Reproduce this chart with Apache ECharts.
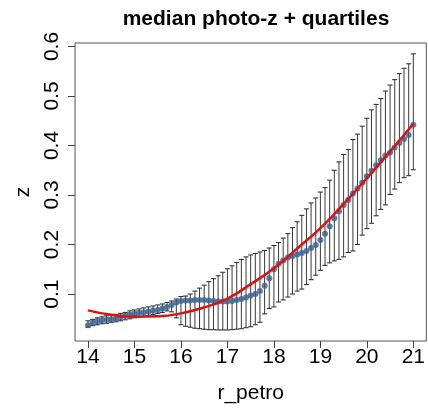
<!DOCTYPE html>
<html>
<head>
<meta charset="utf-8">
<script src="https://cdn.jsdelivr.net/npm/echarts@6/dist/echarts.min.js"></script>
<style>
html,body{margin:0;padding:0;background:#fff;}
#chart{width:428px;height:409px;}
</style>
</head>
<body>
<div id="chart"></div>
<script>
// r_petro bins
var rPetro = [14.0,14.1,14.2,14.3,14.4,14.5,14.6,14.7,14.8,14.9,
  15.0,15.1,15.2,15.3,15.4,15.5,15.6,15.7,15.8,15.9,
  16.0,16.1,16.2,16.3,16.4,16.5,16.6,16.7,16.8,16.9,
  17.0,17.1,17.2,17.3,17.4,17.5,17.6,17.7,17.8,17.9,
  18.0,18.1,18.2,18.3,18.4,18.5,18.6,18.7,18.8,18.9,
  19.0,19.1,19.2,19.3,19.4,19.5,19.6,19.7,19.8,19.9,
  20.0,20.1,20.2,20.3,20.4,20.5,20.6,20.7,20.8,20.9,21.0];
// median photo-z
var medianZ = [0.037,0.042,0.045,0.047,0.048,0.049,0.050,0.053,0.056,0.058,
  0.060,0.062,0.063,0.065,0.067,0.068,0.071,0.074,0.078,0.083,
  0.086,0.087,0.087,0.088,0.088,0.088,0.087,0.086,0.085,0.085,
  0.085,0.086,0.088,0.090,0.093,0.097,0.100,0.106,0.117,0.132,
  0.150,0.161,0.168,0.174,0.177,0.180,0.183,0.187,0.193,0.199,
  0.209,0.222,0.237,0.253,0.267,0.280,0.290,0.303,0.313,0.325,
  0.338,0.349,0.360,0.370,0.380,0.386,0.396,0.405,0.413,0.421,0.442];
// lower quartile
var q1Z = [0.033,0.036,0.038,0.040,0.041,0.043,0.044,0.046,0.048,0.050,
  0.052,0.054,0.055,0.057,0.059,0.061,0.063,0.066,0.064,0.052,
  0.038,0.035,0.033,0.031,0.030,0.029,0.028,0.028,0.0275,0.0275,
  0.0275,0.028,0.029,0.030,0.032,0.034,0.038,0.043,0.060,0.071,
  0.074,0.084,0.088,0.094,0.100,0.106,0.110,0.119,0.129,0.138,
  0.148,0.158,0.163,0.167,0.170,0.175,0.184,0.187,0.200,0.219,
  0.232,0.243,0.258,0.271,0.280,0.301,0.312,0.325,0.335,0.339,0.351];
// upper quartile
var q3Z = [0.046,0.049,0.052,0.054,0.056,0.058,0.059,0.061,0.063,0.066,
  0.068,0.070,0.072,0.074,0.076,0.078,0.080,0.083,0.086,0.090,
  0.095,0.096,0.100,0.106,0.112,0.118,0.125,0.131,0.137,0.144,
  0.151,0.157,0.164,0.170,0.175,0.179,0.182,0.185,0.188,0.193,
  0.198,0.204,0.213,0.222,0.234,0.246,0.259,0.272,0.284,0.294,
  0.306,0.315,0.330,0.350,0.367,0.382,0.392,0.412,0.423,0.439,
  0.455,0.472,0.483,0.495,0.510,0.522,0.533,0.545,0.556,0.565,0.585];
// fitted curve
var fitX = [14.0,14.5,15.0,15.5,16.0,16.5,17.0,17.5,18.0,18.5,19.0,19.5,20.0,20.5,21.0];
var fitZ = [0.067,0.058,0.054,0.055,0.061,0.073,0.091,0.120,0.152,0.192,0.233,0.282,0.334,0.388,0.444];
// ticks
var xTicks = [14,15,16,17,18,19,20,21];
var yTicks = [0.1,0.2,0.3,0.4,0.5,0.6];

var FONT = 'Liberation Sans';
var chart = echarts.init(document.getElementById('chart'), null, {renderer:'canvas'});

var barData = rPetro.map(function(x,i){ return [x, q1Z[i], q3Z[i]]; });
var ptData = rPetro.map(function(x,i){ return [x, medianZ[i]]; });
var fitData = fitX.map(function(x,i){ return [x, fitZ[i]]; });

var option = {
  animation:false,
  backgroundColor:'#fff',
  title:{
    text:'median photo-z + quartiles',
    left:251, top:4, textAlign:'center',
    textStyle:{fontFamily:FONT, fontWeight:'bold', fontSize:21, color:'#000'}
  },
  grid:{left:75, right:1, top:43, bottom:53, show:true, borderColor:'#555', borderWidth:1, backgroundColor:'transparent'},
  xAxis:{
    type:'value', min:13.72, max:21.28,
    name:'r_petro', nameLocation:'middle', nameGap:42,
    nameTextStyle:{fontFamily:FONT, fontSize:21, color:'#000'},
    axisLine:{show:false},
    splitLine:{show:false},
    axisTick:{show:true, inside:false, length:7, customValues:xTicks, lineStyle:{color:'#444'}},
    axisLabel:{fontFamily:FONT, fontSize:21, color:'#000', margin:6, customValues:xTicks}
  },
  yAxis:{
    type:'value', min:0.0052, max:0.607,
    name:'z', nameLocation:'middle', nameGap:40,
    nameTextStyle:{fontFamily:FONT, fontSize:21, color:'#000'},
    axisLine:{show:false},
    splitLine:{show:false},
    axisTick:{show:true, inside:false, length:7, customValues:yTicks, lineStyle:{color:'#444'}},
    axisLabel:{fontFamily:FONT, fontSize:21, color:'#000', rotate:90, margin:12, customValues:yTicks,
      formatter:function(v){ return v.toFixed(1); }}
  },
  series:[
    {
      type:'custom', z:1, clip:false,
      data:barData,
      renderItem:function(params, api){
        var x = api.value(0);
        var lo = api.coord([x, api.value(1)]);
        var hi = api.coord([x, api.value(2)]);
        var hw = 2.5;
        var st = {stroke:'#222', lineWidth:1};
        return {type:'group', children:[
          {type:'line', shape:{x1:lo[0], y1:lo[1], x2:hi[0], y2:hi[1]}, style:{stroke:'#3a3a3a', lineWidth:1}},
          {type:'line', shape:{x1:lo[0]-hw, y1:lo[1], x2:lo[0]+hw, y2:lo[1]}, style:st},
          {type:'line', shape:{x1:hi[0]-hw, y1:hi[1], x2:hi[0]+hw, y2:hi[1]}, style:st}
        ]};
      }
    },
    {
      type:'scatter', z:2, data:ptData, symbol:'circle', symbolSize:6,
      itemStyle:{color:'#325e91'}
    },
    {
      type:'line', z:3, data:fitData, smooth:true, showSymbol:false,
      lineStyle:{color:'#e01010', width:2.5}
    }
  ]
};
chart.setOption(option);
</script>
</body>
</html>
